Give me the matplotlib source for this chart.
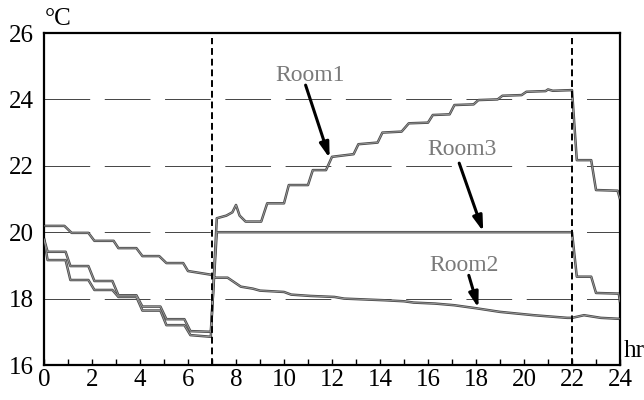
import matplotlib
matplotlib.use("Agg")
import matplotlib.pyplot as plt

# breakpoints (hour, deg C)
room1_t = [0, 0.15, 0.9, 1.1, 1.85, 2.1, 2.85, 3.1, 3.85, 4.1, 4.85, 5.1, 5.85, 6.1, 6.95,
           7.2, 7.6, 7.85, 8.0, 8.15, 8.4, 9.05, 9.3, 10.0, 10.2, 11.0, 11.2, 11.75, 12.0,
           12.9, 13.1, 13.9, 14.1, 14.9, 15.2, 16.0, 16.2, 16.9, 17.1, 17.9, 18.1, 18.9,
           19.1, 19.9, 20.1, 20.9, 21.0, 21.2, 22.0, 22.2, 22.8, 23.0, 23.9, 24.0]
room1_v = [19.8, 19.16, 19.16, 18.56, 18.56, 18.26, 18.26, 18.05, 18.05, 17.64, 17.64, 17.2,
           17.2, 16.9, 16.85, 20.42, 20.5, 20.6, 20.82, 20.5, 20.32, 20.32, 20.87, 20.87,
           21.42, 21.42, 21.87, 21.87, 22.27, 22.35, 22.65, 22.7, 23.0, 23.03, 23.28, 23.3,
           23.53, 23.55, 23.83, 23.85, 23.98, 24.0, 24.11, 24.13, 24.23, 24.25, 24.3, 24.26,
           24.28, 22.17, 22.17, 21.27, 21.25, 21.0]

room3_t = [0, 0.15, 0.9, 1.1, 1.85, 2.1, 2.85, 3.1, 3.85, 4.1, 4.85, 5.1, 5.85, 6.1, 6.95,
           7.2, 22.0, 22.2, 22.8, 23.0, 23.95, 24.0]
room3_v = [19.8, 19.41, 19.41, 18.98, 18.98, 18.53, 18.53, 18.1, 18.1, 17.76, 17.76, 17.38,
           17.38, 17.02, 17.0, 20.0, 20.0, 18.66, 18.66, 18.17, 18.15, 17.9]

room2_t = [0, 0.85, 1.15, 1.85, 2.1, 2.9, 3.1, 3.85, 4.1, 4.8, 5.1, 5.8, 6.0, 6.95, 7.15,
           7.65, 8.2, 8.7, 9.0, 10.0, 10.3, 11.1, 12.1, 12.5, 14.2, 15.0, 15.4, 16.3, 17.1,
           18.0, 19.0, 20.4, 21.8, 22.0, 22.5, 23.2, 24.0]
room2_v = [20.19, 20.19, 19.98, 19.98, 19.74, 19.74, 19.52, 19.52, 19.28, 19.28, 19.07, 19.07,
           18.83, 18.72, 18.63, 18.63, 18.36, 18.3, 18.24, 18.2, 18.12, 18.08, 18.05, 18.0,
           17.95, 17.92, 17.88, 17.85, 17.8, 17.71, 17.6, 17.5, 17.42, 17.42, 17.5, 17.42, 17.39]

grid_y = [18, 20, 22, 24]
switch_hours = [7, 22]
labels = [("Room1", (11.1, 24.73), (10.9, 24.43), (11.9, 22.23)),
          ("Room3", (17.4, 22.48), (17.3, 22.08), (18.3, 20.02)),
          ("Room2", (17.5, 19.0), (17.7, 18.7), (18.1, 17.72))]

plt.rcParams["font.family"] = ["Liberation Serif", "DejaVu Serif"]

fig = plt.figure(figsize=(6.44, 4.0), dpi=100)
ax = fig.add_axes([44 / 644, 35 / 400, 576 / 644, 332 / 400])

for y in grid_y:
    ax.axhline(y, color="#444444", lw=0.7, dashes=(47, 15), zorder=1)
for h in switch_hours:
    ax.plot([h, h], [16, 25.85], color="black", lw=1.4, dashes=(3.5, 2), zorder=4)

for t, v in ((room2_t, room2_v), (room3_t, room3_v), (room1_t, room1_v)):
    ax.plot(t, v, color="#4a4a4a", lw=1.8, zorder=2, solid_joinstyle="round")
    ax.plot(t, v, color="#a0a0a0", lw=0.6, zorder=3, solid_joinstyle="round")

for name, txt, tail, head in labels:
    ax.text(*txt, name, color="#7a7a7a", fontsize=17, ha="center", va="center")
    ax.annotate("", xy=head, xytext=tail,
                arrowprops=dict(arrowstyle="-|>,head_length=0.9,head_width=0.28",
                                color="black", lw=2.2, shrinkA=0, shrinkB=0))

ax.set_xlim(0, 24)
ax.set_ylim(16, 26)
ax.set_xticks(range(0, 25, 2))
ax.set_xticks(range(0, 25), minor=True)
ax.set_yticks(range(16, 27, 2))
ax.tick_params(axis="x", which="both", direction="in", length=4, width=1, labelsize=18, pad=3)
ax.tick_params(axis="y", direction="in", length=0, labelsize=18, pad=7)
for s in ax.spines.values():
    s.set_linewidth(1.6)

ax.text(0.05, 26.1, "°C", fontsize=18, ha="left", va="bottom")
ax.text(24.15, 16.1, "hr", fontsize=18, ha="left", va="bottom", clip_on=False)

fig.savefig("out.png", dpi=100)
